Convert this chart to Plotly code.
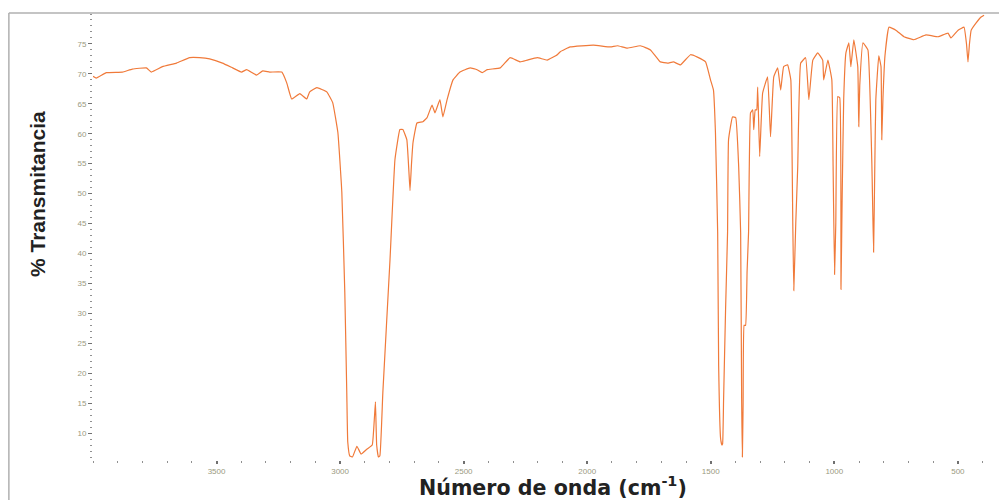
import plotly.graph_objects as go

# Wavenumber (cm-1) and % transmittance
wavenumber = [
    4000, 3987, 3946, 3881, 3841, 3784, 3764, 3719, 3662, 3609, 3569, 3528, 3476, 3435,
    3399, 3378, 3338, 3313, 3285, 3236, 3216, 3196, 3163, 3135, 3123, 3094, 3054, 3030,
    3009, 2993, 2981, 2973, 2969, 2961, 2950, 2932, 2915, 2892, 2870, 2862, 2857, 2852,
    2845, 2839, 2827, 2798, 2778, 2758, 2746, 2730, 2722, 2717, 2711, 2705, 2689, 2665,
    2648, 2628, 2616, 2596, 2584, 2567, 2543, 2515, 2474, 2446, 2425, 2405, 2352, 2312,
    2271, 2243, 2202, 2162, 2121, 2109, 2069, 1975, 1906, 1878, 1837, 1785, 1744, 1704,
    1675, 1651, 1623, 1582, 1554, 1521, 1501, 1489, 1481, 1472, 1468, 1460, 1455, 1452,
    1448, 1440, 1432, 1428, 1412, 1399, 1387, 1379, 1375, 1372, 1369, 1365, 1359, 1353,
    1347, 1339, 1330, 1326, 1320, 1314, 1310, 1302, 1290, 1270, 1258, 1245, 1229, 1217,
    1205, 1189, 1176, 1168, 1164, 1156, 1148, 1136, 1116, 1103, 1087, 1067, 1047, 1043,
    1026, 1010, 1005, 999, 994, 986, 978, 973, 968, 962, 953, 941, 933, 921,
    905, 901, 897, 884, 864, 848, 841, 836, 832, 820, 811, 808, 803, 795,
    779, 751, 718, 678, 629, 580, 540, 528, 499, 475, 465, 459, 453, 446,
    426, 406, 394,
]
transmittance = [
    69.6, 69.3, 70.2, 70.3, 70.8, 71.0, 70.3, 71.2, 71.8, 72.7, 72.7, 72.5, 71.8, 71.0,
    70.3, 70.7, 69.8, 70.5, 70.3, 70.3, 68.5, 65.8, 66.7, 65.8, 67.0, 67.7, 67.0, 65.2,
    60.2, 50.2, 33.5, 16.8, 8.5, 6.2, 6.0, 7.8, 6.5, 7.3, 8.0, 12.0, 15.2, 8.0,
    6.0, 6.2, 16.8, 39.0, 55.7, 60.7, 60.7, 59.0, 54.0, 50.5, 55.0, 58.5, 61.8, 62.0,
    62.7, 64.8, 63.5, 65.7, 62.8, 65.7, 69.0, 70.3, 71.0, 70.7, 70.2, 70.7, 71.0, 72.7,
    72.0, 72.3, 72.7, 72.3, 73.2, 73.7, 74.5, 74.8, 74.5, 74.7, 74.3, 74.7, 74.0, 72.0,
    71.8, 72.0, 71.5, 73.2, 72.8, 72.0, 69.0, 67.3, 60.2, 43.5, 21.2, 9.0, 8.0, 8.2,
    15.7, 30.7, 43.5, 59.0, 62.8, 62.7, 54.5, 43.5, 15.7, 6.0, 15.0, 28.0, 28.0, 37.0,
    43.5, 63.5, 64.0, 60.7, 64.0, 64.0, 67.8, 56.2, 66.8, 69.5, 59.5, 69.5, 71.0, 67.3,
    71.2, 71.5, 69.0, 45.0, 33.8, 45.0, 54.5, 71.8, 72.7, 65.7, 72.3, 73.5, 72.3, 69.0,
    72.3, 69.0, 55.0, 36.5, 45.0, 66.2, 66.0, 34.0, 50.0, 65.7, 73.5, 75.2, 71.2, 75.7,
    71.2, 61.2, 68.0, 75.2, 74.0, 55.0, 40.2, 55.0, 65.7, 73.0, 71.2, 59.0, 66.0, 73.0,
    77.8, 77.3, 76.2, 75.7, 76.5, 76.2, 76.8, 76.0, 77.3, 77.8, 75.0, 72.0, 75.0, 77.3,
    78.5, 79.5, 79.8,
]

y_ticks = [10, 15, 20, 25, 30, 35, 40, 45, 50, 55, 60, 65, 70, 75]
x_ticks = [3500, 3000, 2500, 2000, 1500, 1000, 500]

fig = go.Figure()
fig.add_trace(go.Scatter(
    x=wavenumber, y=transmittance, mode="lines",
    line=dict(color="#f07a3a", width=1.2, shape="spline", smoothing=0.3),
    hoverinfo="x+y", showlegend=False,
))

tick_font = dict(family="Liberation Sans, Arial, sans-serif", size=8, color="#9a9a80")

fig.update_layout(
    width=999, height=500,
    margin=dict(l=93, r=11, t=14, b=40),
    paper_bgcolor="white", plot_bgcolor="white",
    xaxis=dict(
        range=[4000, 378], tickvals=x_ticks, ticktext=[str(v) for v in x_ticks],
        showgrid=False, zeroline=False, showline=False,
        ticks="outside", ticklen=3, tickwidth=2, tickcolor="#707070",
        tickfont=tick_font,
        minor=dict(dtick=100, tick0=0, ticks="outside", ticklen=2, tickwidth=1, tickcolor="#909090"),
    ),
    yaxis=dict(
        range=[5.5, 80], tickvals=y_ticks, ticktext=[str(v) for v in y_ticks],
        showgrid=False, zeroline=False, showline=False,
        ticks="outside", ticklen=4, tickwidth=1, tickcolor="#707070",
        tickfont=tick_font,
        minor=dict(dtick=1, tick0=0, ticks="outside", ticklen=2, tickwidth=1, tickcolor="#909090"),
    ),
    shapes=[
        dict(type="line", xref="paper", yref="paper", x0=-0.094, x1=1.02, y0=1.002, y1=1.002,
             line=dict(color="#b0b0b0", width=1.5)),
        dict(type="line", xref="paper", yref="paper", x0=-0.094, x1=-0.094, y0=1.002, y1=-0.1,
             line=dict(color="#b0b0b0", width=1.5)),
    ],
    annotations=[
        dict(text="<b>% Transmitancia</b>", xref="paper", yref="paper",
             x=(37 - 93) / 895, y=(460 - 194) / 446, textangle=-90, showarrow=False,
             xanchor="center", yanchor="middle",
             font=dict(family="Liberation Sans, Arial, sans-serif", size=21, color="#222222")),
        dict(text="<b>Número de onda (cm<sup>-1</sup>)</b>", xref="paper", yref="paper",
             x=(553 - 93) / 895, y=(460 - 486) / 446, showarrow=False,
             xanchor="center", yanchor="middle",
             font=dict(family="DejaVu Sans, Verdana, sans-serif", size=20.6, color="#222222")),
    ],
)

fig.write_html("out.html")
